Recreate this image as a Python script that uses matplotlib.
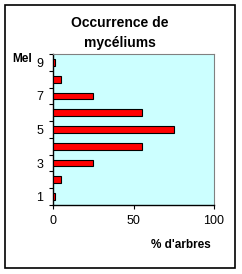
import matplotlib
matplotlib.use('Agg')
import matplotlib.pyplot as plt
from matplotlib.patches import Rectangle

plt.rcParams['font.family'] = ['Liberation Sans', 'DejaVu Sans']

mel = [1, 2, 3, 4, 5, 6, 7, 8, 9]
pct_arbres = [1.5, 5, 25, 55, 75, 55, 25, 5, 1]
x_ticks = [0, 50, 100]
y_labels = [1, 3, 5, 7, 9]

fig = plt.figure(figsize=(2.42, 2.74), dpi=100)
fig.patches.append(Rectangle((5/242, 1-268/274), 230/242, 263/274, transform=fig.transFigure,
                             fill=False, ec='black', lw=1.2))
ax = fig.add_axes([53/242, 1-205/274, 161/242, 151/274])
ax.set_facecolor('#ccffff')
ax.barh(mel, pct_arbres, height=0.4, color='#ff0000', edgecolor='black', lw=0.8, zorder=3)
ax.set_xlim(0, 100)
ax.set_ylim(0.5, 9.5)
ax.set_xticks(x_ticks)
ax.tick_params(axis='x', length=3, direction='out', labelsize=9, pad=4)
ax.set_yticks([i + 0.5 for i in range(0, 10)])
ax.set_yticklabels([])
ax.tick_params(axis='y', which='major', length=3, direction='out')
ax.set_yticks(y_labels, minor=True)
ax.set_yticklabels([str(v) for v in y_labels], minor=True)
ax.tick_params(axis='y', which='minor', length=0, labelsize=9, pad=7)
for s in ['top', 'right']:
    ax.spines[s].set_color('#808080')
    ax.spines[s].set_linewidth(0.8)
for s in ['left', 'bottom']:
    ax.spines[s].set_linewidth(1)

fig.text(120/242, 1-23/274, 'Occurrence de', ha='center', va='center', fontsize=10, fontweight='bold')
fig.text(120/242, 1-43/274, 'mycéliums', ha='center', va='center', fontsize=10, fontweight='bold')
fig.text(12/242, 1-59/274, 'Mel', ha='left', va='center', fontsize=8.5, fontweight='bold')
fig.text(211/242, 1-245/274, "% d'arbres", ha='right', va='center', fontsize=8.5, fontweight='bold')

fig.savefig('out.png', dpi=100)
